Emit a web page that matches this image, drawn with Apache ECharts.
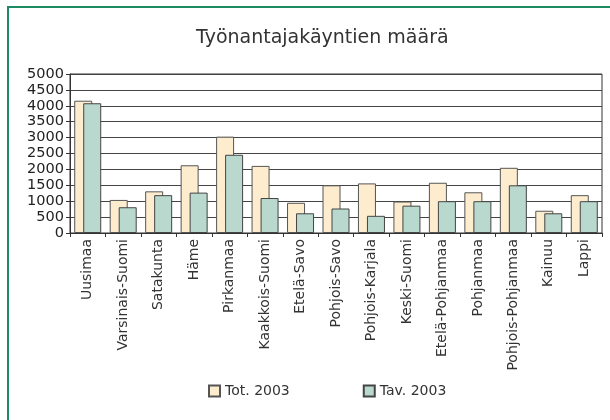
<!DOCTYPE html>
<html>
<head>
<meta charset="utf-8">
<script src="https://cdn.jsdelivr.net/npm/echarts@6/dist/echarts.min.js"></script>
<style>html,body{margin:0;padding:0;background:#fff}#c{width:610px;height:420px}</style>
</head>
<body>
<div id="c"></div>
<script>
const categories = ["Uusimaa","Varsinais-Suomi","Satakunta","Häme","Pirkanmaa","Kaakkois-Suomi","Etelä-Savo","Pohjois-Savo","Pohjois-Karjala","Keski-Suomi","Etelä-Pohjanmaa","Pohjanmaa","Pohjois-Pohjanmaa","Kainuu","Lappi"];
const tot2003 = [4160,1040,1310,2130,3030,2110,950,1500,1560,990,1580,1280,2050,700,1190];
const tav2003 = [4080,810,1190,1270,2460,1100,620,770,540,860,1000,1000,1500,620,1000];
const yTicks = [0,500,1000,1500,2000,2500,3000,3500,4000,4500,5000];
const seriesNames = ["Tot. 2003","Tav. 2003"];

const chart = echarts.init(document.getElementById('c'), null, {renderer:'canvas'});
const font = 'DejaVu Sans';
chart.setOption({
  animation:false,
  backgroundColor:'#fff',
  graphic:[
    {type:'rect', shape:{x:8,y:7,width:700,height:500}, style:{fill:'none', stroke:'#1d8a62', lineWidth:2}}
  ],
  title:{text:'Työnantajakäyntien määrä', left:191, top:24, textStyle:{fontFamily:font, fontSize:19, fontWeight:'normal', color:'#333'}},
  legend:{
    data:seriesNames, top:379, left:203, itemGap:73, itemWidth:11, itemHeight:11, icon:'rect',
    textStyle:{fontFamily:font, fontSize:14, color:'#333'}
  },
  grid:{left:70, right:8, top:74, bottom:187, show:true, borderColor:'#333', borderWidth:1},
  xAxis:{
    type:'category', data:categories,
    axisLine:{lineStyle:{color:'#333'}},
    axisTick:{show:true, length:4, lineStyle:{color:'#333'}},
    axisLabel:{rotate:90, interval:0, fontFamily:font, fontSize:14, color:'#333', margin:6}
  },
  yAxis:{
    type:'value', min:yTicks[0], max:yTicks[yTicks.length-1], interval:500,
    axisLine:{show:true, lineStyle:{color:'#333'}},
    axisTick:{show:true, length:4, lineStyle:{color:'#333'}},
    axisLabel:{fontFamily:font, fontSize:14.5, color:'#222', margin:6, formatter:function(v){return String(v);}},
    splitLine:{lineStyle:{color:'#444', width:1}}
  },
  series:[
    {name:seriesNames[0], type:'bar', data:tot2003, barWidth:18, barGap:'-50%',
     itemStyle:{color:'#fdedce', borderColor:'#555', borderWidth:1}},
    {name:seriesNames[1], type:'bar', data:tav2003, barWidth:18,
     itemStyle:{color:'#b9d8ce', borderColor:'#444', borderWidth:1}}
  ]
});
</script>
</body>
</html>
